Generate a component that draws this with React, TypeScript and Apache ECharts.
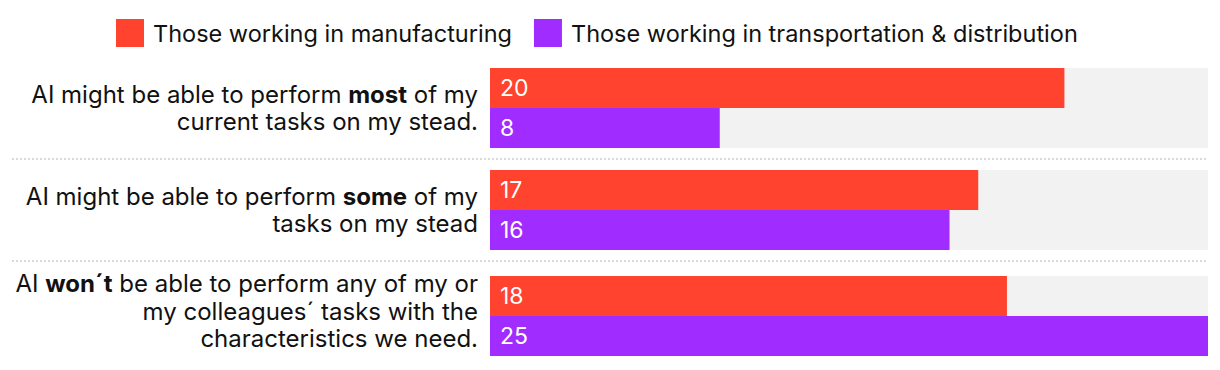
import React, { useEffect, useRef } from "react";
import * as echarts from "echarts";

const seriesNames = ["Those working in manufacturing", "Those working in transportation & distribution"];
const categories = [
  "{n|AI might be able to perform }{b|most}{n| of my}\n{n|current tasks on my stead.}",
  "{n|AI might be able to perform }{b|some}{n| of my}\n{n|tasks on my stead}",
  "{n|AI }{b|won´t}{n| be able to perform any of my or}\n{n|my colleagues´ tasks with the}\n{n|characteristics we need.}",
];
const manufacturing = [20, 17, 18];
const transportation = [8, 16, 25];
const axisMax = 25;

const colors = ["#ff432e", "#a12cff"];
const FONT = "Inter";
const gridTops = [68, 170, 276];

export default function App() {
  const ref = useRef<HTMLDivElement>(null);
  useEffect(() => {
    document.body.style.margin = "0";
    const chart = echarts.init(ref.current!, undefined, { renderer: "svg" });
    const values = [manufacturing, transportation];
    const grids = categories.map((_, i) => ({ left: 490, right: 12, top: gridTops[i], height: 80 }));
    const xAxes = categories.map((_, i) => ({
      type: "value", gridIndex: i, min: 0, max: axisMax, show: false,
    }));
    const yAxes = categories.map((c, i) => ({
      type: "category", gridIndex: i, data: [c], inverse: true,
      axisLine: { show: false }, axisTick: { show: false }, splitLine: { show: false },
      axisLabel: {
        margin: 12, align: "right",
        padding: i === 2 ? [0, 0, 10, 0] : 0,
        rich: {
          n: { fontFamily: FONT, fontSize: 24, lineHeight: 27.5, color: "#111" },
          b: { fontFamily: FONT, fontSize: 24, lineHeight: 27.5, color: "#111", fontWeight: "bold" },
        },
      },
    }));
    const series: any[] = [];
    categories.forEach((_, i) => {
      seriesNames.forEach((name, s) => {
        series.push({
          type: "bar", name, xAxisIndex: i, yAxisIndex: i,
          data: [values[s][i]], barWidth: 40, barGap: "0%",
          itemStyle: { color: colors[s] },
          showBackground: true, backgroundStyle: { color: "#f2f2f2" },
          label: { show: true, position: "insideLeft", distance: 10, color: "#fff", fontFamily: FONT, fontSize: 23 },
        });
      });
    });
    chart.setOption({
      animation: false,
      backgroundColor: "#fff",
      legend: {
        data: seriesNames, top: 14, left: 111, itemWidth: 28, itemHeight: 28, itemGap: 22, icon: "rect",
        textStyle: { fontFamily: FONT, fontSize: 23.5, color: "#111", padding: [0, 0, 0, 4] },
        selectedMode: false,
      },
      grid: grids, xAxis: xAxes, yAxis: yAxes, series,
      graphic: [159, 261].map((y) => ({
        type: "line", shape: { x1: 12, y1: y, x2: 1208, y2: y },
        style: { stroke: "#d9d9d9", lineWidth: 2, lineDash: [2, 2] },
      })),
    });
    return () => chart.dispose();
  }, []);
  return <div ref={ref} style={{ width: 1220, height: 370 }} />;
}
